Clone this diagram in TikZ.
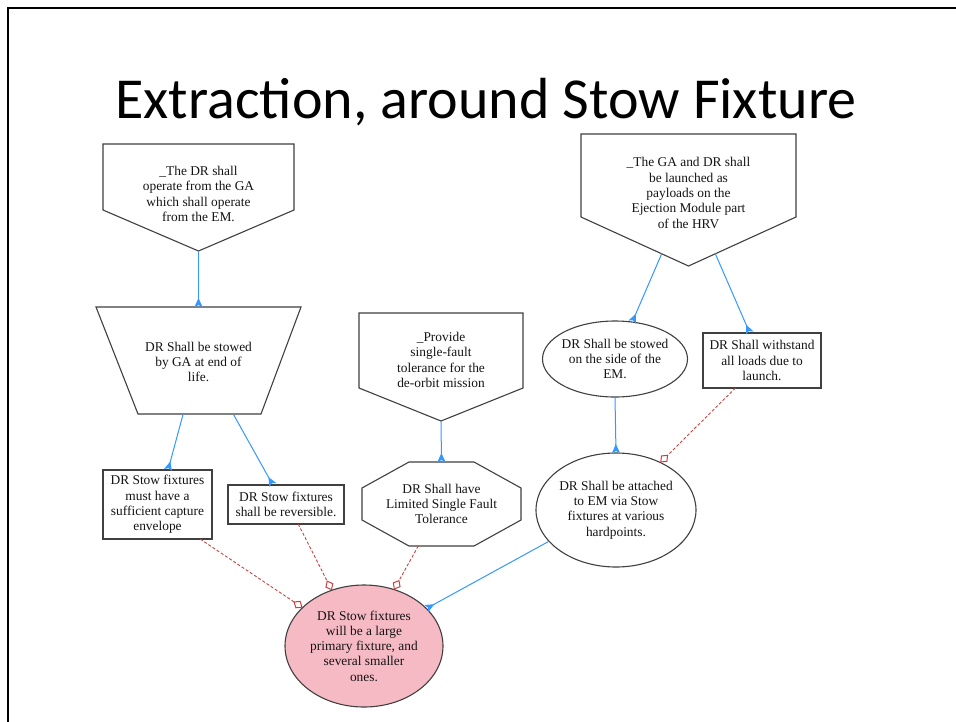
\documentclass[tikz,border=0pt]{standalone}
\usepackage{fontspec}
\setmainfont{Liberation Serif}
\newfontfamily\titlefont{Carlito}
\usetikzlibrary{arrows.meta,shapes.geometric,calc}

\definecolor{edgeblue}{RGB}{51,153,255}
\definecolor{edgered}{RGB}{200,65,65}
\definecolor{notepink}{RGB}{246,186,196}

\begin{document}
\begin{tikzpicture}[x=1pt,y=-1pt,
  txt/.style={align=center,font=\fontsize{13.4}{15.3}\selectfont,text=black!92,inner sep=0pt},
  outline/.style={draw=black!75,line width=1.1pt,line join=miter},
  frame/.style 2 args={rectangle,minimum width=#1,minimum height=#2,inner sep=0pt,outer sep=0pt},
  textbox/.style 2 args={txt,outline,rectangle,minimum width=#1,minimum height=#2,outer sep=0pt},
  oval/.style 2 args={txt,outline,ellipse,minimum width=#1,minimum height=#2,inner sep=-10pt,outer sep=0pt},
  support/.style={draw=edgeblue,line width=1pt,-{Stealth[reversed,length=9pt,width=8pt,inset=2pt]}},
  conflict/.style={draw=edgered,line width=0.9pt,dash pattern=on 3pt off 2pt,
    -{Diamond[fill=white,length=11pt,width=9pt,line width=1pt]}},
]
\useasboundingbox[fill=white] (0,0) rectangle (956,721);

% slide frame and heading
\draw[line width=2.4pt,black] (8,730) -- (8,8) -- (965,8);
\node[anchor=base,inner sep=0pt,font=\titlefont\fontsize{58}{70}\selectfont] (heading) at (486,118)
  {Extraction, around Stow Fixture};

% pentagon goals (drawn as outlines, named by their bounding frames)
\draw[outline] (103,144) -- (294,144) -- (294,210) -- (198.5,251) -- (103,210) -- cycle;
\node[frame={191}{107},label={[txt,yshift=3.5pt]center:{\_The DR shall\\operate from the GA\\which shall operate\\from the EM.}}]
  (goalA) at (198.5,197.5) {};

\draw[outline] (581,134) -- (796,134) -- (796,217) -- (688.5,266) -- (581,217) -- cycle;
\node[frame={215}{132},label={[txt,yshift=7pt]center:{\_The GA and DR shall\\be launched as\\payloads on the\\Ejection Module part\\of the HRV}}]
  (goalC) at (688.5,200) {};

\draw[outline] (359,313) -- (523,313) -- (523,388) -- (441,421) -- (359,388) -- cycle;
\node[frame={164}{108},label={[txt,yshift=7pt]center:{\_Provide\\single-fault\\tolerance for the\\de-orbit mission}}]
  (goalB) at (441,367) {};

% trapezium and octagon
\draw[outline] (96,307) -- (301,307) -- (261,414) -- (138,414) -- cycle;
\node[frame={205}{107},label={[txt,yshift=-1.5pt]center:{DR Shall be stowed\\by GA at end of\\life.}}]
  (stowGA) at (198.5,360.5) {};

\draw[outline] (409,462) -- (474,462) -- (521,488) -- (521,520) -- (474,546) -- (409,546) -- (362,520) -- (362,488) -- cycle;
\node[frame={159}{84},label={[txt]center:{DR Shall have\\Limited Single Fault\\Tolerance}}]
  (faultTol) at (441.5,504) {};

% boxes
\node[textbox={109}{69}] (capture) at (157.5,504.5)
  {DR Stow fixtures\\must have a\\sufficient capture\\envelope};
\node[textbox={116}{39}] (reversible) at (286,504.5)
  {DR Stow fixtures\\shall be reversible.};
\node[textbox={118}{55}] (loads) at (762,360.5)
  {DR Shall withstand\\all loads due to\\launch.};

% ovals
\node[oval={145}{76}] (side) at (615,359)
  {DR Shall be stowed\\on the side of the\\EM.};
\node[oval={160}{114}] (attached) at (616,510)
  {DR Shall be attached\\to EM via Stow\\fixtures at various\\hardpoints.};
\node[oval={158}{122},fill=notepink] (fixtures) at (364,646)
  {DR Stow fixtures\\will be a large\\primary fixture, and\\several smaller\\ones.};

% supporting links
\draw[support] (goalA.south) -- (stowGA.north);
\draw[support] (stowGA.-106) -- (capture.73);
\draw[support] (stowGA.-57) -- (reversible.124);
\draw[support] (goalB.south) -- (faultTol.north);
\draw[support] ($(goalC.south)+(-26.5,-13)$) -- (side.65);
\draw[support] ($(goalC.south)+(26.5,-13)$) -- (loads.114);
\draw[support] (side.south) -- (attached.north);
\draw[support] (attached.205) -- (fixtures.31);

% conflicting links
\draw[conflict] (loads.-134) -- (attached.47);
\draw[conflict] (capture.-39) -- (fixtures.148);
\draw[conflict] (reversible.-58) -- (fixtures.120);
\draw[conflict] (faultTol.-119) -- (fixtures.62);
\end{tikzpicture}
\end{document}
